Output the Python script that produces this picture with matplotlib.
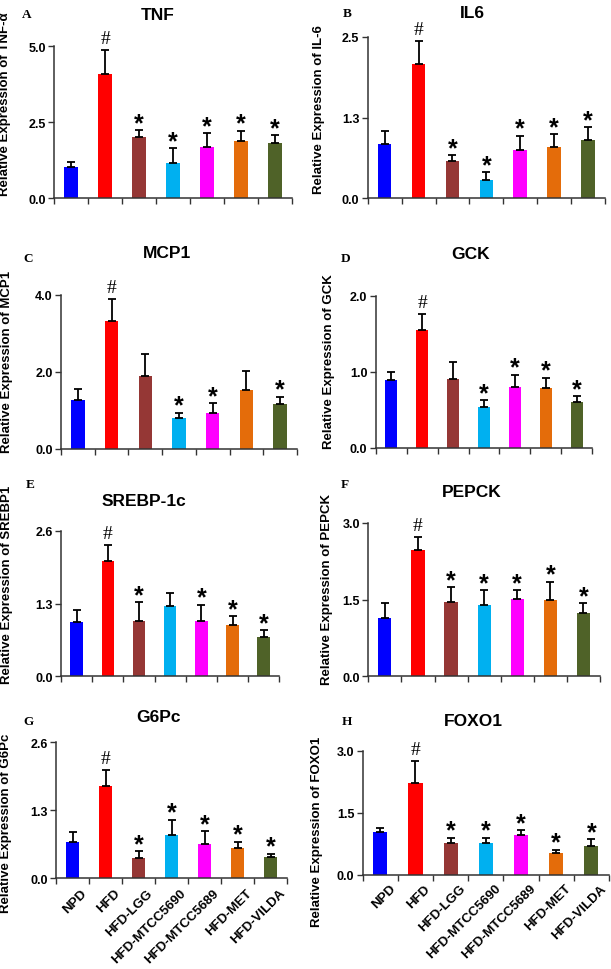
import matplotlib
matplotlib.use("Agg")
import matplotlib.pyplot as plt
import numpy as np

plt.rcParams['font.family'] = ['Liberation Sans', 'DejaVu Sans']

groups = ['NPD', 'HFD', 'HFD-LGG', 'HFD-MTCC5690', 'HFD-MTCC5689', 'HFD-MET', 'HFD-VILDA']
colors = ['#0000FF', '#FF0000', '#953735', '#00B0F0', '#FF00FF', '#E46C0A', '#4F6228']

tnf_vals = [1.02, 4.08, 2.00, 1.15, 1.68, 1.87, 1.83]
tnf_sem = [0.16, 0.79, 0.24, 0.50, 0.46, 0.35, 0.24]
tnf_marks = ['', '#', '*', '*', '*', '*', '*']

il6_vals = [0.84, 2.08, 0.57, 0.29, 0.75, 0.80, 0.90]
il6_sem = [0.20, 0.36, 0.10, 0.11, 0.22, 0.19, 0.20]
il6_marks = ['', '#', '*', '*', '*', '*', '*']

mcp1_vals = [1.26, 3.32, 1.90, 0.79, 0.92, 1.52, 1.16]
mcp1_sem = [0.28, 0.58, 0.55, 0.14, 0.26, 0.51, 0.19]
mcp1_marks = ['', '#', '', '*', '*', '', '*']

gck_vals = [0.89, 1.55, 0.91, 0.535, 0.80, 0.78, 0.60]
gck_sem = [0.11, 0.21, 0.22, 0.095, 0.16, 0.14, 0.08]
gck_marks = ['', '#', '', '*', '*', '*', '*']

srebp_vals = [0.97, 2.06, 0.98, 1.25, 0.99, 0.92, 0.695]
srebp_sem = [0.22, 0.29, 0.34, 0.24, 0.29, 0.16, 0.135]
srebp_marks = ['', '#', '*', '', '*', '*', '*']

pepck_vals = [1.15, 2.48, 1.46, 1.39, 1.51, 1.49, 1.23]
pepck_sem = [0.28, 0.24, 0.29, 0.29, 0.17, 0.36, 0.20]
pepck_marks = ['', '#', '*', '*', '*', '*', '*']

g6pc_vals = [0.70, 1.77, 0.39, 0.82, 0.66, 0.575, 0.40]
g6pc_sem = [0.19, 0.31, 0.13, 0.30, 0.24, 0.125, 0.07]
g6pc_marks = ['', '#', '*', '*', '*', '*', '*']

foxo1_vals = [1.03, 2.23, 0.77, 0.77, 0.97, 0.53, 0.70]
foxo1_sem = [0.10, 0.53, 0.13, 0.13, 0.11, 0.08, 0.16]
foxo1_marks = ['', '#', '*', '*', '*', '*', '*']

W, H = 611, 970
fig = plt.figure(figsize=(W / 100, H / 100), dpi=100)

panels = [
    ('A', 'TNF', 'Relative Expression of TNF-α', tnf_vals, tnf_sem, tnf_marks,
     [0, 2.5, 5.0], ['0.0', '2.5', '5.0'], (54.3, 291.7, 47, 199.3), (11, 104), (158, 15), (27, 15), False),
    ('B', 'IL6', 'Relative Expression of IL-6', il6_vals, il6_sem, il6_marks,
     [0, 1.25, 2.5], ['0.0', '1.3', '2.5'], (367.7, 605, 37.7, 199.3), (325, 110), (472, 14), (347, 14), False),
    ('C', 'MCP1', 'Relative Expression of MCP1', mcp1_vals, mcp1_sem, mcp1_marks,
     [0, 2.0, 4.0], ['0.0', '2.0', '4.0'], (61, 297, 296, 449.5), (13, 362), (167, 254), (28, 259), False),
    ('D', 'GCK', 'Relative Expression of GCK', gck_vals, gck_sem, gck_marks,
     [0, 1.0, 2.0], ['0.0', '1.0', '2.0'], (375.7, 592.3, 296.7, 448.7), (335, 362), (471, 255), (346, 259), False),
    ('E', 'SREBP-1c', 'Relative Expression of SREBP1', srebp_vals, srebp_sem, srebp_marks,
     [0, 1.3, 2.6], ['0.0', '1.3', '2.6'], (61, 279.3, 531.7, 677.3), (13, 585), (144, 502), (30, 485), False),
    ('F', 'PEPCK', 'Relative Expression of PEPCK', pepck_vals, pepck_sem, pepck_marks,
     [0, 1.5, 3.0], ['0.0', '1.5', '3.0'], (368.3, 600, 524, 677.3), (333, 590), (472, 493), (345, 485), False),
    ('G', 'G6Pc', 'Relative Expression of G6Pc', g6pc_vals, g6pc_sem, g6pc_marks,
     [0, 1.3, 2.6], ['0.0', '1.3', '2.6'], (56, 287.3, 743.3, 879.3), (12, 823), (158, 717), (28, 722), True),
    ('H', 'FOXO1', 'Relative Expression of FOXO1', foxo1_vals, foxo1_sem, foxo1_marks,
     [0, 1.5, 3.0], ['0.0', '1.5', '3.0'], (362.7, 609, 752, 875.7), (323, 832), (473, 722), (347, 722), True),
]

x = np.arange(len(groups))
for (letter, title, ylabel, vals, sem, marks, yt, ytl, box, lab, tpos, lpos, showx) in panels:
    l, r, t, b = box
    ax = fig.add_axes([l / W, 1 - b / H, (r - l) / W, (b - t) / H])
    ax.bar(x, vals, width=0.4, color=colors, zorder=2)
    ax.errorbar(x, vals, yerr=[np.zeros(len(vals)), sem], fmt='none', ecolor='black',
                elinewidth=1.3, capsize=3, capthick=1.3, zorder=3, clip_on=False)
    ax.set_xlim(-0.5, len(groups) - 0.5)
    ax.set_ylim(0, yt[-1])
    ax.set_yticks(yt)
    ax.set_yticklabels(ytl, fontsize=9, fontweight='bold')
    ax.set_xticks(np.arange(len(groups) + 1) - 0.5)
    ax.set_xticklabels([])
    ax.tick_params(axis='both', direction='out', length=4, width=1, color='#333333', pad=2)
    for s in ['top', 'right']:
        ax.spines[s].set_visible(False)
    for s in ['left', 'bottom']:
        ax.spines[s].set_linewidth(1.1)
        ax.spines[s].set_color('#333333')
    if showx:
        for xi, g in zip(x, groups):
            ax.text(xi + 0.25, -0.06 * yt[-1], g, rotation=45, ha='right', va='top',
                    rotation_mode='anchor', fontsize=9.5, fontweight='bold',
                    transform=ax.transData, clip_on=False)
    ax.set_ylabel(ylabel, fontsize=9.5, fontweight='bold')
    ax.yaxis.set_label_coords((lab[0] - l) / (r - l), (b - lab[1]) / (b - t))
    for xi, v, e, m in zip(x, vals, sem, marks):
        if m == '#':
            ax.annotate('#', xy=(xi, v + e), xytext=(0, 5), textcoords='offset points',
                        ha='center', va='baseline', fontsize=14, family=['Liberation Serif'],
                        annotation_clip=False)
        elif m == '*':
            ax.annotate('*', xy=(xi, v + e), xytext=(0, 0), textcoords='offset points',
                        ha='center', va='baseline', fontsize=18, fontweight='bold',
                        annotation_clip=False)
    fig.text(tpos[0] / W, 1 - tpos[1] / H, title, ha='center', va='center',
             fontsize=12.5, fontweight='bold')
    fig.text(lpos[0] / W, 1 - lpos[1] / H, letter, ha='center', va='center',
             fontsize=9.5, fontweight='bold', family=['Liberation Serif'])

fig.savefig('out.png', dpi=100)
